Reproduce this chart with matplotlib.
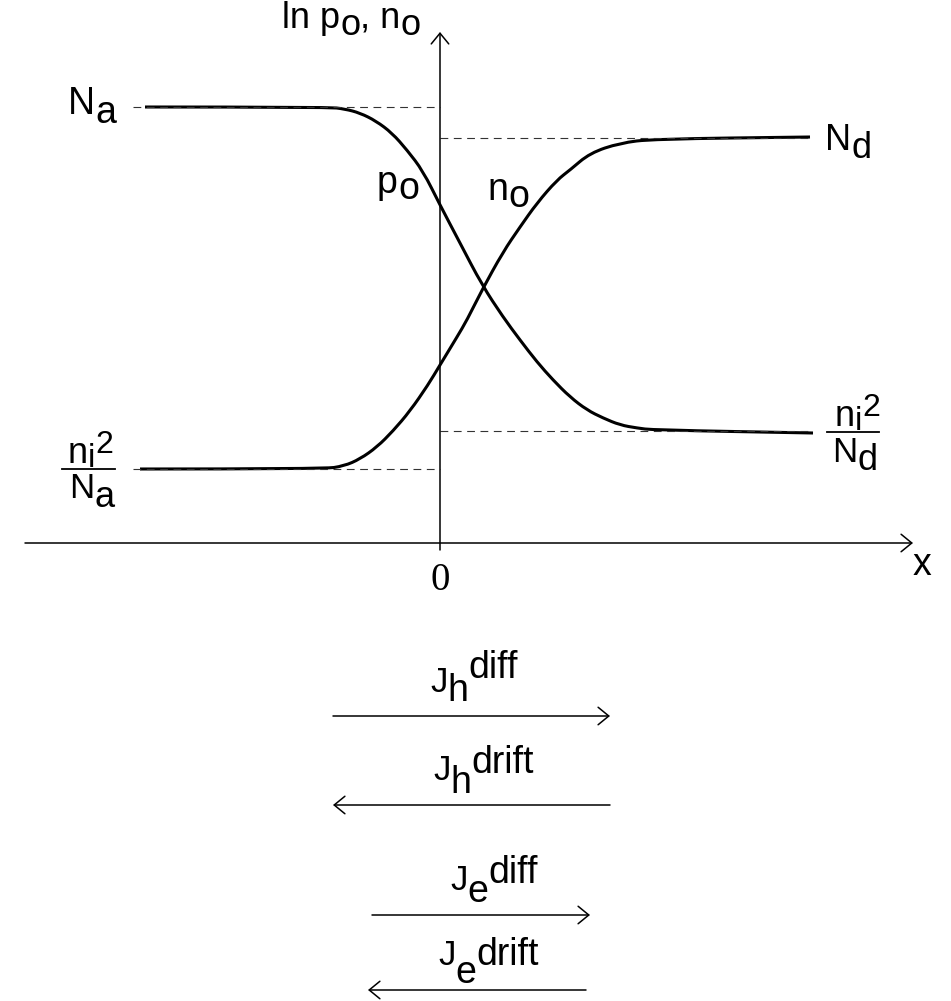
import numpy as np
import matplotlib
matplotlib.use('Agg')
import matplotlib.pyplot as plt
from matplotlib.path import Path
from matplotlib.patches import PathPatch

# p-n junction: ln p0, n0 against x (units: pixels from the axis crossing)
p0_x = [-295, -112, -95, -80, -64, -48, -33, -17, 0, 20, 42, 63, 80, 97, 113, 130, 147, 163, 180, 197, 213, 373]
p0_y = [436, 436, 434, 430, 422, 410, 393, 372, 338, 300, 258, 226, 203, 181, 163, 146, 133, 125, 118, 115, 113, 110]

n0_x = [-300, -116, -96, -80, -63, -47, -30, -12, 0, 17, 27, 42, 63, 80, 97, 117, 130, 150, 180, 213, 370]
n0_y = [74, 74, 77, 84, 96, 112, 132, 158, 178, 206, 223, 253, 291, 316, 340, 363, 373, 390, 400, 404, 406]

# reference levels (Na, ni2/Na on the left, Nd, ni2/Nd on the right)
level_left = [436, 74]
level_right = [405, 112]

fig = plt.figure(figsize=(9.51, 10.01), dpi=100)
ax = fig.add_axes([0, 0, 1, 1])
ax.set_xlim(-440, 511)
ax.set_ylim(-458, 543)
ax.axis('off')
r = fig.canvas.get_renderer()

SANS = 'Liberation Sans'


def put(x, y, parts, family=SANS):
    # lay text pieces side by side, each with its own baseline offset
    cur = x
    for s, dy, size in parts:
        t = ax.text(cur, y + dy, s, fontsize=size, family=family, va='baseline', ha='left')
        cur += t.get_window_extent(renderer=r).width
    return cur


def arrow(x0, y0, x1, y1, lw=1.1):
    ax.annotate('', xy=(x1, y1), xytext=(x0, y0),
                arrowprops=dict(arrowstyle='->,head_length=0.55,head_width=0.45',
                                lw=lw, color='black', shrinkA=0, shrinkB=0, mutation_scale=14))


def smooth_curve(xs, ys, lw=2.2):
    # quadratic bezier through the midpoints, read points act as control points
    pts = list(zip(xs, ys))
    verts = [pts[0]]
    codes = [Path.MOVETO]
    for i in range(1, len(pts) - 1):
        mid = ((pts[i][0] + pts[i + 1][0]) / 2, (pts[i][1] + pts[i + 1][1]) / 2)
        verts += [pts[i], mid]
        codes += [Path.CURVE3, Path.CURVE3]
    verts.append(pts[-1])
    codes.append(Path.LINETO)
    ax.add_patch(PathPatch(Path(verts, codes), fill=False, lw=lw, edgecolor='black', capstyle='butt'))


# dashed levels
for lv in level_left:
    ax.plot([-307, 0], [lv, lv], color='#333333', lw=0.8, dashes=(7, 5))
for lv in level_right:
    ax.plot([0, 370], [lv, lv], color='#333333', lw=0.8, dashes=(7, 5))

# axes
arrow(-415, 0, 473, 0)
arrow(0, -7, 0, 511)

# curves
smooth_curve(p0_x, p0_y)
smooth_curve(n0_x, n0_y)

# labels
put(-158, 515, [('ln p', 0, 26), ('o', -7, 26), (', n', 0, 26), ('o', -7, 26)])
put(-372, 429, [('N', 0, 27), ('a', -9, 27)])
put(-63, 350, [('p', 0, 27), ('o', -6, 27)])
put(47, 343, [('n', 0, 27), ('o', -7, 27)])
put(385, 393, [('N', 0, 26), ('d', -8, 26)])

# left fraction ni2/Na
put(-372, 80, [('n', 0, 26), ('i', -4, 24), ('2', 10, 23)])
ax.plot([-378, -325], [74, 74], color='black', lw=1.3)
put(-371, 45, [('N', 0, 25), ('a', -9, 26)])

# right fraction ni2/Nd
put(395, 117, [('n', 0, 26), ('i', -4, 24), ('2', 10, 23)])
ax.plot([387, 439], [111, 111], color='black', lw=1.3)
put(392, 81, [('N', 0, 25), ('d', -8, 26)])

ax.text(482, -32, 'x', fontsize=27, family=SANS, ha='center', va='baseline')
ax.text(0, -47, '0', fontsize=28, family='Liberation Serif', ha='center', va='baseline')

# current arrows
put(-10, -149, [('J', 0, 25), ('h', -9, 27), ('diff', 14, 27)])
arrow(-107, -173, 170, -173)
put(-7, -237, [('J', 0, 25), ('h', -13, 27), ('drift', 7, 27)])
arrow(170, -262, -107, -262)
put(10, -347, [('J', 0, 25), ('e', -12, 27), ('diff', 7, 27)])
arrow(-68, -372, 150, -372)
put(-2, -422, [('J', 0, 25), ('e', -18, 27), ('drift', 0, 27)])
arrow(146, -447, -72, -447)

fig.savefig('out.png', dpi=100)
